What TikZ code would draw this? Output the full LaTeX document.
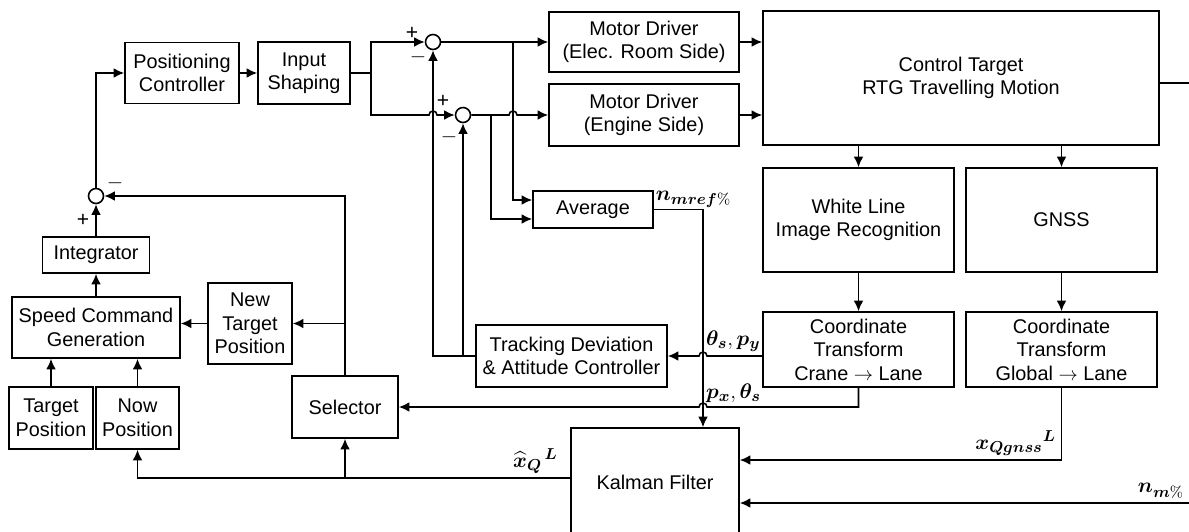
\documentclass[tikz,border=0pt]{standalone}
\usepackage{amsmath, amssymb, bm}
\usepackage{fontspec}
\setsansfont{Liberation Sans}
\usepackage{tikz}
\usetikzlibrary{arrows.meta}

\begin{document}
\begin{tikzpicture}[
    x=0.02cm, y=-0.02cm,
    blk/.style = {
        draw, line width=0.9pt,
        align=center, inner sep=2pt,
        font=\fontsize{11.3}{13.4}\selectfont\sffamily
    },
    sumc/.style = {
        draw, circle, line width=0.9pt,
        minimum size=0.3cm, inner sep=0pt
    },
    sgn/.style = {font=\fontsize{12}{12}\selectfont\sffamily, inner sep=0pt},
    lbl/.style = {font=\fontsize{12.5}{12.5}\selectfont, inner sep=1pt},
    arr/.style = {-{Latex[length=6pt,width=5.5pt]}, line width=0.9pt},
    ln/.style  = {line width=0.9pt}
]
\useasboundingbox (0,0) rectangle (1189,531);

%% ---- POSITION LOOP ----
\node[blk, minimum width=2.28cm, minimum height=1.22cm] (posc) at (182,73) {Positioning\\Controller};
\node[blk, minimum width=1.84cm, minimum height=1.24cm] (shap) at (304,73) {Input\\Shaping};
\node[sumc] (sum1) at (96,196) {};
\node[blk, minimum width=2.14cm, minimum height=0.72cm] (intg) at (96,255) {Integrator};
\node[blk, minimum width=3.36cm, minimum height=1.22cm] (scg)  at (96,327.5) {Speed Command\\Generation};
\node[blk, minimum width=1.68cm, minimum height=1.62cm] (ntp)  at (250,323.5) {New\\Target\\Position};
\node[blk, minimum width=1.68cm, minimum height=1.24cm] (tpos) at (51,418) {Target\\Position};
\node[blk, minimum width=1.66cm, minimum height=1.24cm] (npos) at (137.5,418) {Now\\Position};
\node[blk, minimum width=2.12cm, minimum height=1.24cm] (sel)  at (345,407) {Selector};

%% ---- DRIVE SIDE ----
\node[sumc] (sumA) at (433,42) {};
\node[sumc] (sumB) at (463,115) {};
\node[blk, minimum width=3.8cm, minimum height=1.2cm]  (mdrv1) at (644,42)  {Motor Driver\\(Elec. Room Side)};
\node[blk, minimum width=3.8cm, minimum height=1.24cm] (mdrv2) at (644,115) {Motor Driver\\(Engine Side)};
\node[blk, minimum width=2.4cm, minimum height=0.74cm] (avg)   at (593,209.5) {Average};
\node[blk, minimum width=3.82cm, minimum height=1.24cm] (trk)  at (571.5,356) {Tracking Deviation\\\& Attitude Controller};
\node[blk, minimum width=3.36cm, minimum height=2.16cm] (kal)  at (655,482) {Kalman Filter};

%% ---- PLANT AND SENSORS ----
\node[blk, minimum width=7.92cm, minimum height=2.68cm] (ctgt) at (961,78) {Control Target\\RTG Travelling Motion};
\node[blk, minimum width=3.82cm, minimum height=2.08cm] (wlir) at (858.5,220) {White Line\\Image Recognition};
\node[blk, minimum width=3.82cm, minimum height=2.08cm] (gnss) at (1061.5,220) {GNSS};
\node[blk, minimum width=3.82cm, minimum height=1.5cm]  (ctc)  at (858.5,349.5) {Coordinate\\Transform\\Crane $\rightarrow$ Lane};
\node[blk, minimum width=3.82cm, minimum height=1.5cm]  (ctg)  at (1061.5,349.5) {Coordinate\\Transform\\Global $\rightarrow$ Lane};

%% ---- SIGNS ----
\node[sgn] at (83,220)  {+};
\node[sgn] at (115,183) {$-$};
\node[sgn] at (412,33)  {+};
\node[sgn] at (418,57)  {$-$};
\node[sgn] at (443,101) {+};
\node[sgn] at (449,137) {$-$};

%% ---- BRANCH POINTS AND JUMPS ----
\coordinate (spl) at (371,73);
\coordinate (brA) at (513,42);
\coordinate (brB) at (491,115);
\coordinate (jA)  at (429,115);
\coordinate (jB)  at (509,115);
\coordinate (jC)  at (707,356);
\coordinate (jD)  at (707,407);
\coordinate (out) at (1189,83);
\coordinate (nin) at (1189,503);

%% ---- ARROWS ----
\draw[arr] (sum1.north) |- (posc.west);
\draw[arr] (posc.east) -- (shap.west);
\draw[ln]  (shap.east) -- (spl);
\draw[arr] (spl) |- (sumA.west);
\draw[arr] (spl) |- (jA) arc[start angle=180, end angle=0, radius=0.08cm] -- (sumB.west);

\draw[arr] (sumA.east) -- (mdrv1.west);
\draw[arr] (sumB.east) -- (jB) arc[start angle=180, end angle=0, radius=0.08cm] -- (mdrv2.west);
\draw[arr] (brA) |- ([yshift=0.19cm]avg.west);
\draw[arr] (brB) |- ([yshift=-0.19cm]avg.west);
\draw[arr] (trk.west) -| (sumA.south);
\draw[arr] (trk.west -| sumB) -- (sumB.south);

\draw[arr] (mdrv1.east) -- (mdrv1.east -| ctgt.west);
\draw[arr] (mdrv2.east) -- (mdrv2.east -| ctgt.west);
\draw[ln]  (ctgt.east |- out) -- (out);
\draw[arr] (ctgt.south -| wlir.north) -- (wlir.north);
\draw[arr] (ctgt.south -| gnss.north) -- (gnss.north);
\draw[arr] (wlir.south) -- (ctc.north);
\draw[arr] (gnss.south) -- (ctg.north);

\draw[arr] (trk.east -| ctc.west) -- (jC) arc[start angle=0, end angle=180, radius=0.08cm] -- (trk.east);
\draw[arr] (ctc.south) |- (jD) arc[start angle=0, end angle=180, radius=0.08cm] -- (sel.east);
\draw[arr] (avg.east) -| ([xshift=0.96cm]kal.north);
\draw[arr] (ctg.south) |- ([yshift=0.44cm]kal.east);
\draw[arr] (nin) -- (nin -| kal.east);

\draw[arr] ([yshift=0.08cm]kal.west) -| (npos.south);
\draw[arr] ([yshift=0.08cm]kal.west -| sel.south) -- (sel.south);
\draw[arr] (sel.north) |- (sum1.east);
\draw[arr] (sel.north |- ntp.east) -- (ntp.east);
\draw[arr] (ntp.west) -- (ntp.west -| scg.east);
\draw[arr] (tpos.north) -- (tpos.north |- scg.south);
\draw[arr] (npos.north) -- (npos.north |- scg.south);
\draw[arr] (scg.north) -- (intg.south);
\draw[arr] (intg.north) -- (sum1.south);

%% ---- SIGNAL LABELS ----
\node[lbl, anchor=south west] at (avg.east) {$\bm{n}_{\bm{mref}\%}$};
\node[lbl, anchor=south west] at (704,354) {$\bm{\theta_s}, \bm{p_y}$};
\node[lbl, anchor=south west] at (704,405) {$\bm{p_x}, \bm{\theta_s}$};
\node[lbl, anchor=south east] at (560,476) {$\bm{\widehat{x}_Q}{}^{\,\bm{L}}$};
\node[lbl, anchor=south east] at (1058,458) {$\bm{x_{Qgnss}}{}^{\bm{L}}$};
\node[lbl, anchor=south east] at (1186,500) {$\bm{n}_{\bm{m}\%}$};

\end{tikzpicture}
\end{document}
